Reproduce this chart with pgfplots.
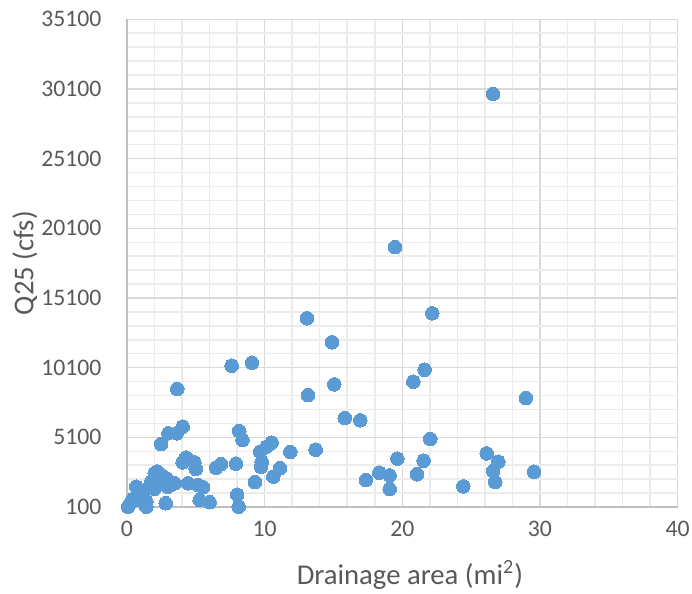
\documentclass[border=0pt]{standalone}
\usepackage{fontspec}
\setmainfont{Carlito}
\usepackage{pgfplots}
\usepackage{pgfplotstable}
\pgfplotsset{compat=1.18}

\definecolor{ptblue}{HTML}{5B9BD5}
\definecolor{txtgray}{HTML}{595959}
\definecolor{majgrid}{HTML}{D9D9D9}
\definecolor{mingrid}{HTML}{ECECEC}
\definecolor{axgray}{HTML}{BFBFBF}

% Drainage area (mi^2) versus 25-year peak discharge (cfs)
\pgfplotstableread{
area  q25
26.6  29750
19.47 18750
22.18 14000
13.08 13640
14.9  11920
9.08  10450
7.61  10240
3.66  8570
21.62 9950
20.8  9090
15.06 8900
13.15 8130
28.98 7920
15.82 6480
16.95 6320
4.05  5860
3.62  5390
3.01  5390
2.48  4620
8.16  5550
8.4   4910
10.51 4710
10.15 4430
9.67  4070
9.79  3350
9.74  2990
11.87 4050
13.71 4210
22.03 4980
11.12 2880
10.63 2280
9.3   1890
7.92  3210
6.83  3180
6.47  2920
8.01  980
8.12  120
19.64 3570
21.55 3420
18.33 2560
19.08 2370
21.07 2450
17.36 2040
19.08 1390
26.13 3950
26.97 3350
26.6  2680
29.56 2630
26.75 1890
24.43 1580
4.3   3650
4.05  3300
4.9   3310
5.0   2830
4.44  1800
5.16  1680
5.53  1510
5.28  600
6.01  440
2.82  370
2.02  2520
2.2   2650
2.5   2400
2.86  2160
3.47  1800
2.98  1560
2.26  1920
1.77  1920
0.68  1560
1.17  1080
0.81  840
0.32  480
0.08  120
1.41  120
1.41  480
1.6   1500
2.2   2200
1.9   1700
1.3   1300
0.5   700
1.0   600
2.5   1800
2.0   1400
3.0   1900
}\datatable

\begin{document}
\begin{tikzpicture}
\useasboundingbox (-63.45pt,-43.5pt) rectangle (282.55pt,253.5pt);
\begin{axis}[
  at={(0,0)}, anchor=south west,
  scale only axis, width=275.4pt, height=243.85pt,
  xmin=0, xmax=40, ymin=100, ymax=35100,
  xtick={0,10,...,40}, ytick={100,5100,...,35100},
  minor x tick num=4, minor y tick num=4,
  grid=both,
  major grid style={draw=majgrid, line width=0.75pt},
  minor grid style={draw=mingrid, line width=0.75pt},
  axis lines*=left,
  axis line style={draw=axgray, line width=1pt, -},
  major tick length=0pt, minor tick length=0pt,
  tick style={draw=none},
  scaled ticks=false,
  /pgf/number format/1000 sep={},
  /pgf/number format/assume math mode=true,
  ticklabel style={font=\fontsize{11.85}{14}\selectfont, text=txtgray},
  yticklabel style={anchor=east, inner sep=0pt, xshift=-12.5pt},
  xticklabel style={anchor=north, inner sep=0pt, yshift=-7pt},
  label style={font=\fontsize{14.35}{17}\selectfont, text=txtgray},
  xlabel={Drainage area (mi\textsuperscript{2})},
  ylabel={Q25 (cfs)},
  xlabel style={at={(axis description cs:0.5138,-0.1394)}, anchor=center},
  ylabel style={at={(axis description cs:-0.1852,0.5)}, anchor=center},
  clip=false,
]
\addplot[only marks, mark=*, mark size=3.4pt, color=ptblue,
  mark options={fill=ptblue, draw=ptblue, line width=0pt}]
  table[x=area, y=q25] {\datatable};
\end{axis}
\end{tikzpicture}
\end{document}
